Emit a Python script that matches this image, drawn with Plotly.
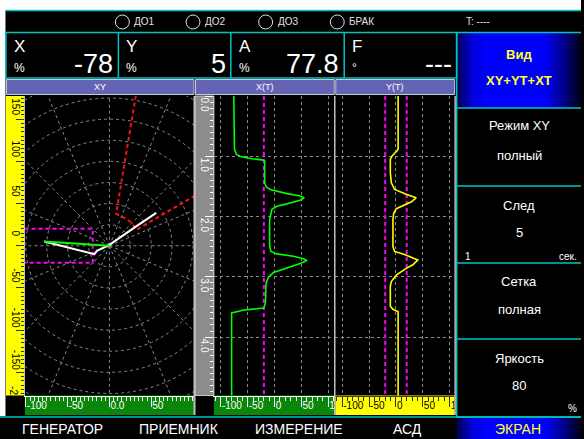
import math
import plotly.graph_objects as go

W, H = 584, 439
FONT = "Liberation Sans"

# ---------------- data ----------------
# XY plane (X %, Y %)
xy_trail_x = [-78, -18, -15, 0, 32, 56]
xy_trail_y = [5, -10, -6, 1, 23, 39]
xy_vec_x = [-78, -40, 0]
xy_vec_y = [5, 2.5, 0]
# red sector alarm zone
zone_x = [33, 8, 12, 18, 25.8, 29.8, 32.5, 110]
zone_y = [186, 38, 35.7, 33, 27.8, 23, 19, 63.8]
# magenta rectangular alarm zone
box_x = [-110, -20, -20, -110]
box_y = [20, 20, -20, -20]

# X(T) sweep
t_x = [0, 0.8, 0.88, 0.97, 1.005, 1.04, 1.06, 1.08, 1.44, 1.51, 1.55, 1.62, 1.66, 1.69,
       1.73, 1.79, 1.83, 1.88, 1.97, 2.05, 2.49, 2.58, 2.62, 2.66, 2.70, 2.73, 2.78, 2.86,
       2.93, 3.0, 3.1, 3.43, 3.52, 3.55, 3.6, 5]
x_t = [-76, -76, -74.7, -71, -63.6, -42, -23.5, -18.5, -18.5, -15.4, -8, 22.8, 47.5, 55,
       47.5, 22.8, 4.3, -5, -8, -9.3, -9.3, -6.8, 4.3, 35, 53.7, 60, 47.5, 22.8,
       -2, -11, -16, -17, -20, -57, -80, -80]
# Y(T) sweep
t_y = [0, 0.88, 0.91, 0.99, 1.05, 1.27, 1.44, 1.55, 1.63, 1.69, 1.76, 1.82, 1.87, 1.95,
       2.05, 2.5, 2.58, 2.63, 2.72, 2.8, 2.86, 2.97, 3.08, 3.16, 3.49, 3.54, 3.58, 5]
y_t = [4, 4, 2, -6.8, -10.5, -10.5, -8.6, -2.5, 19, 37.6, 28, 13, 0.6, -4.3,
       -5.6, -5.6, -2.5, 16, 40.7, 31.5, 19, 0.6, -8.6, -10.5, -10.5, -5.6, 4, 4]
x_thresholds = [-20]
y_thresholds = [-20, 20]

# rulers
xy_x_ticks = [-100, -50, 0, 50]
xy_x_labels = ["-100", "-50", "0.0", "50"]
xy_y_ticks = [-150, -100, -50, 0, 50, 100, 150]
xy_y_labels = ["-150", "-100", "-50", "0", "50", "100", "150"]
sweep_ticks = [-100, -50, 0, 50, 100]
sweep_labels = ["-100", "-50", "0", "50", "1"]
time_ticks = [0, 1, 2, 3, 4]
time_labels = ["0.0", "1.0", "2.0", "3.0", "4.0"]

# screen texts
leds = ["ДО1", "ДО2", "ДО3", "БРАК"]
readout_names = ["X", "Y", "A", "F"]
readout_units = ["%", "%", "%", "°"]
readout_values = ["-78", "5", "77.8", "---"]
panel_titles = ["XY", "X(T)", "Y(T)"]
menu_titles = ["Режим XY", "След", "Сетка", "Яркость"]
menu_values = ["полный", "5", "полная", "80"]
softkeys = ["ГЕНЕРАТОР", "ПРИЕМНИК", "ИЗМЕРЕНИЕ", "АСД"]

CYAN = "#00c4c4"
GRID = "#8a8a8a"

shapes = []
annots = []


def px(x):
    return x / W


def py(y):
    return 1 - y / H


def rect(x0, y0, x1, y1, fill=None, line=None, lw=1, layer="below"):
    shapes.append(dict(type="rect", xref="paper", yref="paper",
                       x0=px(x0), x1=px(x1), y0=py(y1), y1=py(y0),
                       fillcolor=fill or "rgba(0,0,0,0)",
                       line=dict(color=line or "rgba(0,0,0,0)", width=lw if line else 0),
                       layer=layer))


def seg(x0, y0, x1, y1, color, lw=1):
    shapes.append(dict(type="line", xref="paper", yref="paper",
                       x0=px(x0), x1=px(x1), y0=py(y0), y1=py(y1),
                       line=dict(color=color, width=lw), layer="above"))


def text(x, y, s, size, color="white", anchor="center", angle=0, bold=False):
    if bold:
        s = "<b>" + s + "</b>"
    annots.append(dict(xref="paper", yref="paper", x=px(x), y=py(y), text=s,
                       showarrow=False, xanchor=anchor, yanchor="middle",
                       textangle=angle, font=dict(size=size, color=color, family=FONT)))


def blue_panel(x0, y0, x1, y1, n=40):
    prof = [(0.0, 70), (0.12, 220), (0.25, 255), (0.7, 255), (0.85, 150), (1.0, 20)]
    for i in range(n):
        f = (i + 0.5) / n
        for (a, ca), (b, cb) in zip(prof[:-1], prof[1:]):
            if a <= f <= b:
                c = ca + (cb - ca) * (f - a) / (b - a)
                break
        rect(x0 + (x1 - x0) * i / n, y0, x0 + (x1 - x0) * (i + 1) / n + 0.6, y1,
             fill="rgb(0,0,%d)" % int(c))


# page margins (white)
rect(0, 0, W, 10.5, fill="white")
rect(0, 0, 5.5, 416, fill="white")

# status bar
seg(5.5, 10.5, W, 10.5, CYAN, 1.5)
seg(5.5, 32.5, W, 32.5, CYAN, 1.5)
for i, name in enumerate(leds):
    cx = [123, 194, 267, 339][i]
    shapes.append(dict(type="circle", xref="paper", yref="paper",
                       x0=px(cx - 7), x1=px(cx + 7), y0=py(29), y1=py(15),
                       line=dict(color="#e0e0e0", width=1), layer="above"))
    text(cx + 10, 22, name, 10, "#e0e0e0", "left")
text(466, 22, "T: ----", 10, "#e0e0e0", "left")

# readout cells
cells = [6, 119, 232, 346, 459]
seg(5.5, 78, 459, 78, CYAN, 1.5)
for xc in cells:
    seg(xc, 32.5, xc, 78, CYAN, 1.5)
for i in range(4):
    x0, x1 = cells[i], cells[i + 1]
    text(x0 + 6, 46, readout_names[i], 17, "white", "left")
    text(x0 + 6, 68, readout_units[i], 12, "white", "left")
    text(x1 - 3, 64, readout_values[i], 27, "white", "right")

# panel title bars
bars = [(6.5, 195), (196.5, 336), (337.5, 457)]
for (a, b), t in zip(bars, panel_titles):
    rect(a, 79.5, b, 94.5, fill="#6464b4", line="#c8c8d8", lw=1)
    text((a + b) / 2, 87.5, t, 9, "white")

# rulers
rect(6, 96, 25, 395.5, fill="#ffff00")
rect(25, 395.5, 195, 415, fill="#0a870a")
rect(196, 96, 215, 395.5, fill="#8c8c8c", line="#c8c8c8", lw=1)
rect(215, 395.5, 336, 415, fill="#0a870a")
rect(337, 395.5, 457, 415, fill="#ffff00")
seg(195.5, 96, 195.5, 415, "#c0c0c0", 2)
seg(336.5, 96, 336.5, 415, "#c0c0c0", 1.5)
seg(457.5, 96, 457.5, 415, "#c0c0c0", 1.5)
# the -200 label of the yellow ruler, cut by the ruler end
text(14, 391, "-2", 10, "black", angle=90)

# right menu
blue_panel(459, 33, W, 108)
text(522, 55, "Вид", 13, "#ffff30", bold=True)
text(522, 80, "XY+YT+XT", 13, "#ffff30", bold=True)
for yb in [108, 186, 263, 339, 417]:
    seg(459, yb, W, yb, CYAN, 1.5)
seg(459, 32.5, 459, 417, CYAN, 1.5)
menu_y = [(125, 155), (205, 232), (281, 309), (358, 385)]
for (ty, vy), t, v in zip(menu_y, menu_titles, menu_values):
    text(522, ty, t, 13, "white")
    text(522, vy, v, 13, "white")
text(465, 256, "1", 10, "white", "left")
text(582, 256, "сек.", 10, "white", "right")
text(582, 408, "%", 10, "white", "right")

# soft keys
seg(0, 417, W, 417, CYAN, 1.5)
for x, s in zip([63, 180, 301, 410], softkeys):
    text(x, 429, s, 14, "white")
blue_panel(459, 418, W, H)
text(521, 429, "ЭКРАН", 14, "#ffff30")

# polar grid of the XY plane
for k in range(1, 9):
    r = 25 * k
    shapes.append(dict(type="circle", xref="x", yref="y", x0=-r, x1=r, y0=-r, y1=r,
                       line=dict(color=GRID, width=1, dash="dot"), layer="below"))
for k in range(16):
    a = math.radians(22.5 * k)
    shapes.append(dict(type="line", xref="x", yref="y", x0=0, y0=0,
                       x1=260 * math.cos(a), y1=260 * math.sin(a),
                       line=dict(color=GRID, width=1, dash="dot"), layer="below"))

fig = go.Figure()
dash = "4px,3px"
fig.add_trace(go.Scatter(x=zone_x, y=zone_y, mode="lines", xaxis="x", yaxis="y",
                         line=dict(color="#ff1010", width=2, dash=dash)))
fig.add_trace(go.Scatter(x=box_x + box_x[:1], y=box_y + box_y[:1], mode="lines",
                         xaxis="x", yaxis="y",
                         line=dict(color="#ff00ff", width=2, dash=dash)))
fig.add_trace(go.Scatter(x=xy_trail_x, y=xy_trail_y, mode="lines", xaxis="x", yaxis="y",
                         line=dict(color="white", width=2)))
fig.add_trace(go.Scatter(x=xy_vec_x, y=xy_vec_y, mode="lines", xaxis="x", yaxis="y",
                         line=dict(color="#00ff00", width=2)))
for v in x_thresholds:
    fig.add_trace(go.Scatter(x=[v, v], y=[0, 5], mode="lines", xaxis="x2", yaxis="y2",
                             line=dict(color="#ff00ff", width=2, dash=dash)))
fig.add_trace(go.Scatter(x=x_t, y=t_x, mode="lines", xaxis="x2", yaxis="y2",
                         line=dict(color="#00ff00", width=1.6)))
for v in y_thresholds:
    fig.add_trace(go.Scatter(x=[v, v], y=[0, 5], mode="lines", xaxis="x3", yaxis="y3",
                             line=dict(color="#ff00ff", width=2, dash=dash)))
fig.add_trace(go.Scatter(x=y_t, y=t_y, mode="lines", xaxis="x3", yaxis="y3",
                         line=dict(color="#ffff00", width=1.6)))

plot_dom = [py(395.5), py(96)]
tf_w = dict(size=10, color="white", family=FONT)
tf_b = dict(size=10, color="black", family=FONT)
grid = dict(showgrid=True, gridcolor=GRID, gridwidth=1, griddash="dot")

fig.update_layout(
    width=W, height=H, margin=dict(l=0, r=0, t=0, b=0),
    paper_bgcolor="black", plot_bgcolor="rgba(0,0,0,0)", showlegend=False,
    font=dict(family=FONT, color="white"),
    shapes=shapes, annotations=annots,
    xaxis=dict(domain=[px(25), px(195)], range=[-101.2, 101.2], anchor="y",
               showgrid=False, zeroline=False, showline=True, linecolor="white",
               ticks="outside", ticklen=10, tickcolor="white",
               tickvals=xy_x_ticks, ticktext=xy_x_labels,
               ticklabelposition="outside right", ticklabelstandoff=0, tickfont=tf_w,
               minor=dict(dtick=5, ticklen=4, tickcolor="white", ticks="outside")),
    yaxis=dict(domain=plot_dom, range=[-177.4, 177.4], anchor="x",
               showgrid=False, zeroline=False, showline=True, linecolor="#c0c0c0",
               ticks="outside", ticklen=8, tickcolor="#303030",
               tickvals=xy_y_ticks, ticktext=xy_y_labels, tickangle=90,
               ticklabelshift=-11, ticklabelstandoff=-8, tickfont=tf_b,
               minor=dict(dtick=5, ticklen=3, tickcolor="#303030", ticks="outside")),
    xaxis2=dict(domain=[px(215), px(336)], range=[-113, 111], anchor="y2",
                zeroline=False, showline=True, linecolor="white",
                ticks="outside", ticklen=10, tickcolor="white",
                tickvals=sweep_ticks, ticktext=sweep_labels,
                ticklabelposition="outside right", ticklabelstandoff=0, tickfont=tf_w,
                minor=dict(dtick=10, ticklen=4, tickcolor="white", ticks="outside"), **grid),
    yaxis2=dict(domain=plot_dom, range=[4.97, 0], anchor="x2",
                zeroline=False, showline=True, linecolor="#c0c0c0",
                ticks="outside", ticklen=8, tickcolor="white",
                tickvals=time_ticks, ticktext=time_labels, tickangle=90,
                ticklabelshift=-10, ticklabelstandoff=-8, tickfont=tf_w,
                minor=dict(dtick=0.1, ticklen=3, tickcolor="white", ticks="outside"), **grid),
    xaxis3=dict(domain=[px(337), px(456)], range=[-113, 107.4], anchor="y3",
                zeroline=False, showline=True, linecolor="#404040",
                ticks="outside", ticklen=10, tickcolor="#303030",
                tickvals=sweep_ticks, ticktext=sweep_labels,
                ticklabelposition="outside right", ticklabelstandoff=0, tickfont=tf_b,
                minor=dict(dtick=10, ticklen=4, tickcolor="#303030", ticks="outside"), **grid),
    yaxis3=dict(domain=plot_dom, range=[4.97, 0], anchor="x3", zeroline=False,
                tickvals=[1, 2, 3, 4], showticklabels=False, ticks="", **grid),
)

fig.write_html("out.html", config={"displayModeBar": False},
               post_script="document.body.style.margin='0';")
